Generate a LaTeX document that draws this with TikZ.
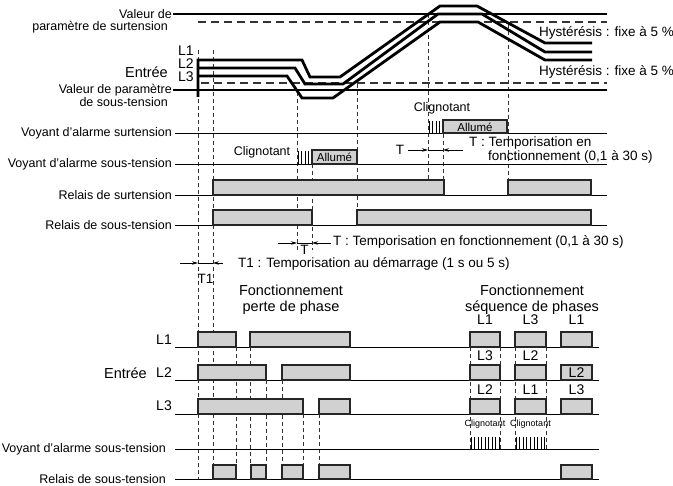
\documentclass[tikz,border=0pt]{standalone}
\usepackage{fontspec}
\setmainfont{Liberation Sans}
\usetikzlibrary{arrows.meta}
\begin{document}
\begin{tikzpicture}[x=1pt,y=-1pt,
  lab/.style={font=\fontsize{12.5}{14}\selectfont, inner sep=0pt},
  ann/.style={font=\fontsize{13.5}{15}\selectfont, inner sep=0pt},
  big/.style={font=\fontsize{14.5}{15.5}\selectfont, inner sep=0pt},
  lname/.style={font=\fontsize{14}{15}\selectfont, inner sep=0pt},
  small/.style={font=\fontsize{9}{10}\selectfont, inner sep=0pt},
  boxtxt/.style={font=\fontsize{11.5}{12}\selectfont, inner sep=0pt},
  base/.style={line width=0.9pt, draw=black},
  sig/.style={draw=black!85, fill=black!18, line width=1.2pt},
  dsh/.style={draw=black!80, line width=0.7pt, dash pattern=on 4pt off 3pt},
  hdsh/.style={draw=black!80, line width=1.1pt, dash pattern=on 8pt off 5pt},
  setl/.style={line width=2.4pt},
  inp/.style={line width=2.8pt, line join=miter, line cap=butt},
  flash/.style={line width=0.8pt},
  arr/.style={-{Stealth[length=6pt,width=3.5pt]}, line width=0.7pt}]

\useasboundingbox (0,0) rectangle (673,486);

% ---------- dashed verticals (drawn first) ----------
\draw[dsh] (198,50) -- (198,479);
\draw[dsh] (213,50) -- (213,479);
\draw[dsh] (297,92) -- (297,250);
\draw[dsh] (312,150) -- (312,250);
\draw[dsh] (357,84) -- (357,210);
\draw[dsh] (428,14) -- (428,180);
\draw[dsh] (443,120) -- (443,180);
\draw[dsh] (508,24) -- (508,180);
\foreach \x in {236,250} \draw[dsh] (\x,347) -- (\x,479);
\foreach \x in {266,282} \draw[dsh] (\x,380) -- (\x,479);
\foreach \x in {303,319} \draw[dsh] (\x,414) -- (\x,479);
\foreach \x in {470,500,515,546} \draw[dsh] (\x,347) -- (\x,449);

% ---------- top: input voltages ----------
\node[lab, anchor=east] (vs1) at (172,14) {Valeur de};
\node[lab, anchor=east] (vs2) at (168,27) {paramètre de surtension};
\draw[setl] (173,14) -- (607,14);
\draw[hdsh] (198,22) -- (607,22);
\draw[hdsh] (201,83) -- (607,83);
\draw[setl] (173,90) -- (607,90);
\node[lab, anchor=east] (vu1) at (172,90) {Valeur de paramètre};
\node[lab, anchor=east] (vu2) at (168,102) {de sous-tension};
\node[ann, anchor=west] (h1) at (539,33) {Hystérésis : fixe à 5 \%};
\node[ann, anchor=west] (h2) at (539,72) {Hystérésis : fixe à 5 \%};

\node[big, anchor=east] (entree) at (168,72) {Entrée};
\node[lname, anchor=west] (tl1) at (178,51) {L1};
\node[lname, anchor=west] (tl2) at (178,64) {L2};
\node[lname, anchor=west] (tl3) at (178,77) {L3};

\draw[inp] (198,97) -- (198,60) -- (302,60) -- (310,77) -- (340,77) -- (440,6) -- (477,6) -- (545,43) -- (592,43);
\draw[inp] (198,68) -- (295,68) -- (305,84) -- (343,84) -- (438,14) -- (482,14) -- (545,52) -- (592,52);
\draw[inp] (198,76) -- (287,76) -- (302,98) -- (333,98) -- (440,22) -- (478,22) -- (545,60) -- (592,60);

% ---------- alarm / relay rows ----------
\node[lab, anchor=east] (vas) at (172,133) {Voyant d'alarme surtension};
\draw[base] (175,133) -- (607,133);
\node[lab] (cl1) at (442,108) {Clignotant};
\foreach \x in {429,432.5,436,439.5} \draw[flash] (\x,121) -- (\x,133);
\draw[sig] (443,120) rectangle (507,133);
\node[boxtxt] (al1) at (475,127) {Allumé};

\node[lab, anchor=east] (vau) at (172,164) {Voyant d'alarme sous-tension};
\draw[base] (175,164) -- (607,164);
\node[lab] (cl2) at (262,152) {Clignotant};
\foreach \x in {298,301.5,305,308.5} \draw[flash] (\x,151) -- (\x,164);
\draw[sig] (312,150) rectangle (357,164);
\node[boxtxt] (al2) at (334.5,157.5) {Allumé};

\node[lab, anchor=east] (rs) at (172,195) {Relais de surtension};
\draw[base] (175,195) -- (607,195);
\draw[sig] (213,180) rectangle (444,195);
\draw[sig] (508,180) rectangle (591,195);

\node[lab, anchor=east] (ru) at (172,225) {Relais de sous-tension};
\draw[base] (175,225) -- (607,225);
\draw[sig] (213,210) rectangle (312,225);
\draw[sig] (357,210) rectangle (591,225);

% ---------- time annotations ----------
\node[ann] (tt) at (400,150) {T};
\draw[arr] (408,150) -- (428,150);
\draw[arr] (463,150) -- (443,150);
\draw[line width=0.7pt] (428,150) -- (443,150);
\node[ann, anchor=west] (tta) at (469,143) {T : Temporisation en};
\node[ann, anchor=west] (ttb) at (488,157) {fonctionnement (0,1 à 30 s)};

\draw[arr] (278,243) -- (297,243);
\draw[arr] (331,243) -- (312,243);
\draw[line width=0.7pt] (297,243) -- (312,243);
\node[ann] (t2) at (304.5,249.5) {T};
\node[ann, anchor=west] (t2a) at (333,242) {T : Temporisation en fonctionnement (0,1 à 30 s)};

\draw[arr] (180,263) -- (198,263);
\draw[arr] (223,263) -- (213,263);
\draw[line width=0.7pt] (198,263) -- (213,263);
\node[ann] (t1) at (205.5,279) {T1};
\node[ann, anchor=west] (t1a) at (238,264) {T1 : Temporisation au démarrage (1 s ou 5 s)};

% ---------- bottom: phase loss / sequence ----------
\node[big, align=center] (fpp) at (291,300) {Fonctionnement\\perte de phase};
\node[big, align=center] (fsp) at (532,300) {Fonctionnement\\séquence de phases};

% L1 row
\node[lname, anchor=east] (bl1) at (172,340) {L1};
\draw[base] (175,347) -- (599,347);
\foreach \a/\b in {198/236,250/350,470/500,515/546,561/592} \draw[sig] (\a,332) rectangle (\b,347);
% L2 row
\node[big, anchor=east] (ent2) at (147,373) {Entrée};
\node[lname, anchor=east] (bl2) at (172,373) {L2};
\draw[base] (175,380) -- (599,380);
\foreach \a/\b in {198/266,282/350,470/500,515/546,561/592} \draw[sig] (\a,365) rectangle (\b,380);
% L3 row
\node[lname, anchor=east] (bl3) at (172,406) {L3};
\draw[base] (175,414) -- (599,414);
\foreach \a/\b in {198/303,319/350,470/500,515/546,561/592} \draw[sig] (\a,399) rectangle (\b,414);

% sequence labels
\node[lname] (s1) at (485,320) {L1};
\node[lname] (s2) at (530.5,320) {L3};
\node[lname] (s3) at (576.5,320) {L1};
\node[lname] (s4) at (485,356) {L3};
\node[lname] (s5) at (530.5,356) {L2};
\node[lname] (s6) at (576.5,373) {L2};
\node[lname] (s7) at (485,390) {L2};
\node[lname] (s8) at (530.5,390) {L1};
\node[lname] (s9) at (576.5,390) {L3};

% under-voltage alarm (bottom)
\node[lab, anchor=east] (vab) at (166,449) {Voyant d'alarme sous-tension};
\draw[base] (175,449) -- (599,449);
\node[small] (c3) at (485,424) {Clignotant};
\node[small] (c4) at (530.5,424) {Clignotant};
\foreach \i in {0,...,8} {
  \draw[flash] (471+3.5*\i,437) -- (471+3.5*\i,449);
  \draw[flash] (516+3.6*\i,437) -- (516+3.6*\i,449);
}

% under-voltage relay (bottom)
\node[lab, anchor=east] (rub) at (166,479) {Relais de sous-tension};
\draw[base] (175,479) -- (599,479);
\foreach \a/\b in {213/236,251/266,282/303,319/350,561/592} \draw[sig] (\a,465) rectangle (\b,479);

\end{tikzpicture}
\end{document}
